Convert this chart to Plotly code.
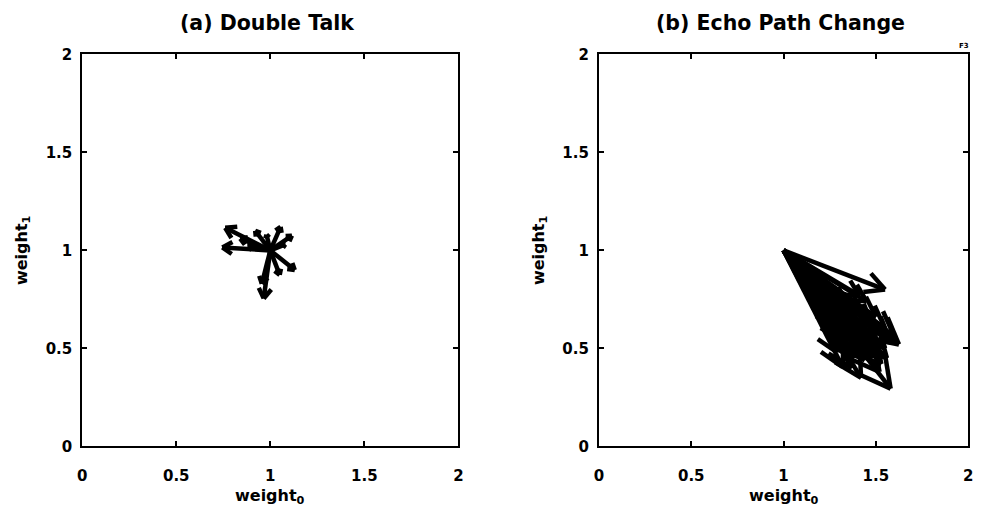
import math
import plotly.graph_objects as go

# ---------------- data ----------------
tick_vals = [0, 0.5, 1, 1.5, 2]
tick_text = ["0", "0.5", "1", "1.5", "2"]

# (a) Double Talk: arrows from the start weight to each new weight
a_start = (1.0, 1.0)
a_end_w0 = [0.76, 0.745, 0.965, 0.92, 1.055, 1.115, 1.13, 1.05, 0.955, 0.88, 1.08, 0.98, 0.84]
a_end_w1 = [1.115, 1.015, 0.755, 1.10, 1.12, 1.075, 0.90, 0.875, 0.83, 1.02, 1.03, 1.08, 1.06]

# (b) Echo Path Change
b_start = (1.0, 1.0)
b_end_w0 = [1.55, 1.58, 1.32, 1.625, 1.45, 1.50, 1.60, 1.40, 1.35, 1.48, 1.52, 1.38, 1.30, 1.43,
            1.56, 1.46, 1.36, 1.42, 1.30, 1.34, 1.38, 1.44, 1.50, 1.55, 1.58, 1.45, 1.40, 1.35,
            1.28, 1.24, 1.50, 1.55, 1.42, 1.48, 1.26, 1.29, 1.41, 1.33, 1.37, 1.53]
b_end_w1 = [0.80, 0.295, 0.405, 0.52, 0.74, 0.66, 0.56, 0.55, 0.60, 0.45, 0.38, 0.48, 0.66, 0.62,
            0.45, 0.52, 0.70, 0.35, 0.55, 0.52, 0.45, 0.44, 0.48, 0.50, 0.53, 0.58, 0.62, 0.68,
            0.72, 0.76, 0.55, 0.60, 0.68, 0.62, 0.62, 0.48, 0.77, 0.74, 0.40, 0.42]

W, H = 988, 523
a_px = (78, 458)
b_px = (600, 973)
y_px = (47, 453)


def quiver_xy(start, xs, ys, sx, sy, frac=0.22, ang_deg=30):
    X, Y = [], []
    x0, y0 = start
    th = math.radians(ang_deg)
    for x1, y1 in zip(xs, ys):
        X += [x0, x1, None]
        Y += [y0, y1, None]
        dx, dy = (x1 - x0) * sx, (y1 - y0) * sy
        L = math.hypot(dx, dy)
        ux, uy = dx / L, dy / L
        bl = frac * L
        for s in (1, -1):
            c, si = math.cos(s * th), math.sin(s * th)
            rx, ry = ux * c - uy * si, ux * si + uy * c
            bx, by = x1 - rx * bl / sx, y1 - ry * bl / sy
            X += [bx, x1, None]
            Y += [by, y1, None]
    return X, Y


sy = (y_px[1] - y_px[0]) / 2.0
sxa = (a_px[1] - a_px[0]) / 2.0
sxb = (b_px[1] - b_px[0]) / 2.0

ax_, ay_ = quiver_xy(a_start, a_end_w0, a_end_w1, sxa, sy, frac=0.24, ang_deg=32)
bx_, by_ = quiver_xy(b_start, b_end_w0, b_end_w1, sxb, sy, frac=0.2, ang_deg=28)

fig = go.Figure()
fig.add_trace(go.Scatter(x=ax_, y=ay_, mode="lines", line=dict(color="black", width=4.5),
                         xaxis="x", yaxis="y", showlegend=False, hoverinfo="skip"))
fig.add_trace(go.Scatter(x=bx_, y=by_, mode="lines", line=dict(color="black", width=4.5),
                         xaxis="x2", yaxis="y2", showlegend=False, hoverinfo="skip"))

FONT = "DejaVu Sans"
tickfont = dict(family=FONT, size=15, color="black", weight="bold")
titlefont = dict(family=FONT, size=16, color="black", weight="bold")

axis_common = dict(range=[0, 2], tickvals=tick_vals, ticktext=tick_text, ticks="inside",
                   ticklen=5, tickwidth=1.5, tickcolor="black", showline=True, linewidth=2,
                   linecolor="black", mirror="ticks", showgrid=False, zeroline=False,
                   tickfont=tickfont, fixedrange=True)

ydom = [1 - y_px[1] / H, 1 - y_px[0] / H]
fig.update_layout(
    width=W, height=H, margin=dict(l=0, r=0, t=0, b=0),
    paper_bgcolor="white", plot_bgcolor="white",
    xaxis=dict(domain=[a_px[0] / W, a_px[1] / W], anchor="y", ticklabelstandoff=15, **axis_common),
    yaxis=dict(domain=ydom, anchor="x", ticklabelstandoff=5,
               title=dict(text="weight<sub>1</sub>", font=titlefont, standoff=14), **axis_common),
    xaxis2=dict(domain=[b_px[0] / W, b_px[1] / W], anchor="y2", ticklabelstandoff=15, **axis_common),
    yaxis2=dict(domain=ydom, anchor="x2", ticklabelstandoff=5,
                title=dict(text="weight<sub>1</sub>", font=titlefont, standoff=14), **axis_common),
)

def ann(text, x, y, size, angle=0):
    fig.add_annotation(text=text, x=x / W, y=1 - y / H, xref="paper", yref="paper",
                       showarrow=False, textangle=angle, xanchor="center", yanchor="middle",
                       font=dict(family=FONT, size=size, color="black", weight="bold"))

ann("(a) Double Talk", (a_px[0] + a_px[1]) / 2 - 3, 14, 20.5)
ann("(b) Echo Path Change", (b_px[0] + b_px[1]) / 2 - 3, 14, 20.5)
ann("weight<sub>0</sub>", (a_px[0] + a_px[1]) / 2, 505, 16)
ann("weight<sub>0</sub>", (b_px[0] + b_px[1]) / 2, 505, 16)
ann("F3", 969, 38, 7)

fig.write_html("out.html")
